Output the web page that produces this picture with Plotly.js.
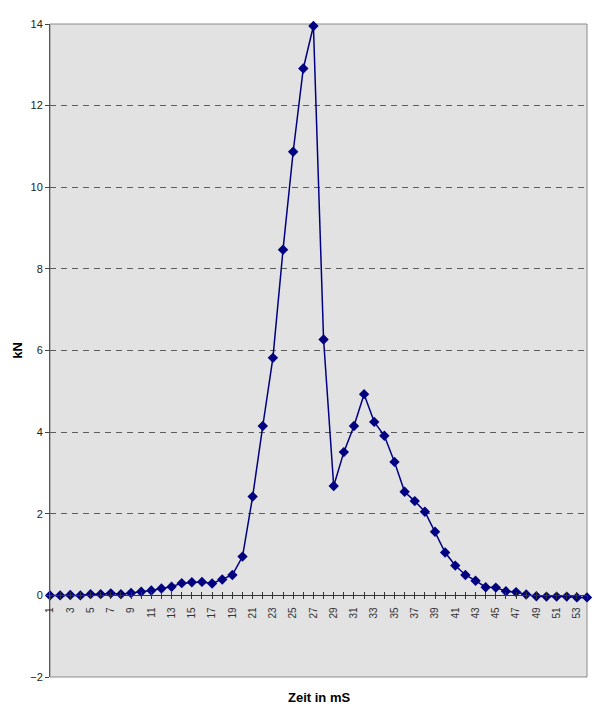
<!DOCTYPE html>
<html>
<head>
<meta charset="utf-8">
<script src="https://cdn.plot.ly/plotly-3.0.1.min.js"></script>
<style>html,body{margin:0;padding:0;background:#fff;}</style>
</head>
<body>
<div id="chart" style="width:600px;height:716px;"></div>
<script>
// Categories (time in ms)
const zeit = [];
for (let i = 1; i <= 54; i++) zeit.push(i);

// Force in kN
const kN = [
  0.00, 0.00, 0.01, 0.00, 0.03, 0.03, 0.05, 0.03, 0.06, 0.09,
  0.12, 0.17, 0.21, 0.30, 0.32, 0.33, 0.29, 0.39, 0.50, 0.95,
  2.42, 4.15, 5.82, 8.47, 10.87, 12.91, 13.95, 6.27, 2.68, 3.51,
  4.15, 4.93, 4.25, 3.91, 3.27, 2.54, 2.31, 2.05, 1.56, 1.05,
  0.73, 0.50, 0.36, 0.20, 0.19, 0.10, 0.08, 0.02, -0.02, -0.03,
  -0.03, -0.03, -0.05, -0.05
];

// Tick labels: every second category
const tickLabels = zeit.map(v => (v % 2 === 1 ? String(v) : ''));
const yTicks = [-2, 0, 2, 4, 6, 8, 10, 12, 14];

const FONT = 'Liberation Sans, Arial, Helvetica, sans-serif';

const trace = {
  x: zeit,
  y: kN,
  type: 'scatter',
  mode: 'lines+markers',
  line: {color: '#000080', width: 1.5},
  marker: {symbol: 'diamond', size: 8, color: '#000080'},
  cliponaxis: false,
  hoverinfo: 'x+y'
};

// invisible companion trace so the upper half of the crossing tick marks is drawn
const tickTrace = {
  x: zeit,
  y: kN,
  xaxis: 'x2',
  type: 'scatter',
  mode: 'markers',
  marker: {opacity: 0, size: 1},
  hoverinfo: 'skip',
  showlegend: false
};

const layout = {
  width: 600,
  height: 716,
  margin: {l: 50, r: 13, t: 24, b: 39},
  paper_bgcolor: '#ffffff',
  plot_bgcolor: '#e2e2e2',
  showlegend: false,
  font: {family: FONT, color: '#222'},
  xaxis: {
    range: [1, 54],
    anchor: 'free',
    position: 0.125,
    tickmode: 'array',
    tickvals: zeit,
    ticktext: tickLabels,
    tickangle: -90,
    ticks: 'outside',
    ticklen: 3,
    tickcolor: '#333',
    ticklabelstandoff: 4,
    tickfont: {family: FONT, size: 10, color: '#333'},
    showline: true,
    linecolor: '#333',
    linewidth: 1,
    showgrid: false,
    zeroline: false
  },
  xaxis2: {
    overlaying: 'x',
    range: [1, 54],
    anchor: 'free',
    position: 0.125,
    tickmode: 'array',
    tickvals: zeit,
    ticks: 'inside',
    ticklen: 3,
    tickcolor: '#333',
    showticklabels: false,
    showline: false,
    showgrid: false,
    zeroline: false
  },
  yaxis: {
    range: [-2, 14],
    tickmode: 'array',
    tickvals: yTicks,
    ticks: 'outside',
    ticklen: 4,
    tickcolor: '#444',
    tickfont: {family: FONT, size: 11, color: '#222'},
    showline: true,
    linecolor: '#555',
    linewidth: 1,
    showgrid: true,
    gridcolor: '#5c5c5c',
    gridwidth: 1,
    griddash: '6px,5px',
    zeroline: false,
    title: {text: 'kN', font: {family: FONT, size: 13, color: '#000', weight: 'bold'}, standoff: 4}
  },
  annotations: [
    {text: 'Zeit in mS', xref: 'paper', yref: 'paper', x: 0.5, y: -0.031,
     xanchor: 'center', yanchor: 'middle', showarrow: false,
     font: {family: FONT, size: 13, color: '#000', weight: 'bold'}}
  ],
  shapes: [
    {type: 'rect', xref: 'paper', yref: 'paper', x0: 0, x1: 1, y0: 0, y1: 1,
     line: {color: '#8a8a8a', width: 1}, layer: 'below'}
  ]
};

Plotly.newPlot('chart', [tickTrace, trace], layout, {displayModeBar: false, staticPlot: true});
</script>
</body>
</html>
